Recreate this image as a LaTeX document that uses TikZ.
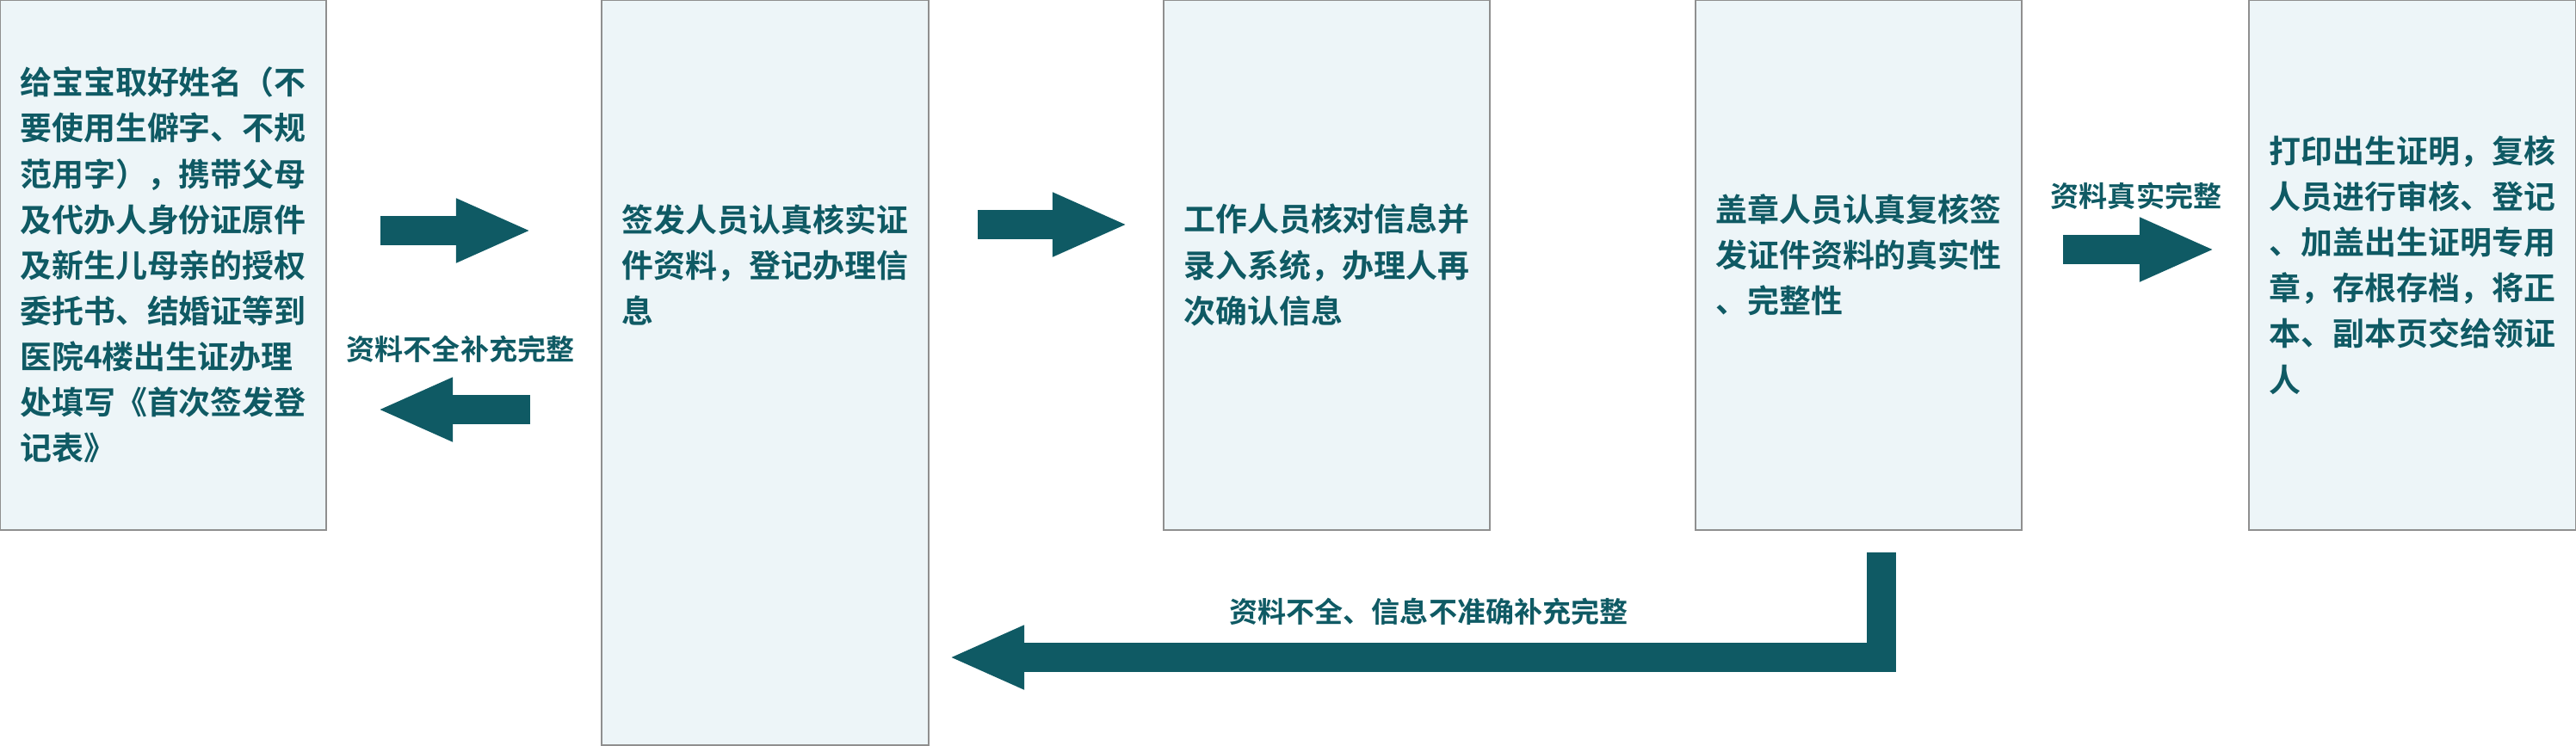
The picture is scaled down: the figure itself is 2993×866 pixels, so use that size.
\documentclass[tikz,border=0pt]{standalone}
\usepackage{fontspec}
\newfontfamily\cjk{Noto Sans CJK SC}[BoldFont={Noto Sans CJK SC Bold}]
\usetikzlibrary{arrows.meta}
\definecolor{flowteal}{HTML}{0F5A64}
\definecolor{boxfill}{HTML}{EDF5F8}
\definecolor{boxgray}{HTML}{8F8F8F}

\begin{document}
\begin{tikzpicture}[x=0.01cm, y=-0.01cm, >={Triangle[length=0.88cm,width=0.68cm]}]
  \tikzstyle{steptext} = [inner sep=0pt, align=left, text=flowteal, font={\cjk\bfseries\fontsize{10.5pt}{15.1pt}\selectfont}]
  \tikzstyle{stepbox} = [steptext, draw=boxgray, fill=boxfill, line width=0.02cm, minimum width=3.79cm, minimum height=6.16cm]
  \tikzstyle{blockarrow} = [draw=flowteal, line width=0.34cm, ->]
  \tikzstyle{note} = [inner sep=0pt, text=flowteal, font={\cjk\bfseries\fontsize{9.4pt}{12pt}\selectfont}]
  \useasboundingbox (0,0) rectangle (2993,866);

  % steps
  \node[stepbox] (b1) at (189.5,308) {给宝宝取好姓名（不\\要使用生僻字、不规\\范用字），携带父母\\及代办人身份证原件\\及新生儿母亲的授权\\委托书、结婚证等到\\医院4楼出生证办理\\处填写《首次签发登\\记表》};
  \node[stepbox, minimum height=8.66cm] (b2) at (889,433) {};
  \node[steptext] (t2) at (b2 |- b1) {签发人员认真核实证\\件资料，登记办理信\\息};
  \node[stepbox] (b3) at (1541.5,308) {工作人员核对信息并\\录入系统，办理人再\\次确认信息};
  \node[stepbox] (b4) at (2159.5,308) {};
  \node[steptext] (t4) at ([yshift=0.12cm]b4.center) {盖章人员认真复核签\\发证件资料的真实性\\、完整性};
  \node[stepbox] (b5) at (2803,308) {打印出生证明，复核\\人员进行审核、登记\\、加盖出生证明专用\\章，存根存档，将正\\本、副本页交给领证\\人};

  % arrow ends
  \coordinate (a12s) at (442,268);  \coordinate (a12e) at (618,268);
  \coordinate (a21s) at (616,476);  \coordinate (a21e) at (438,476);
  \coordinate (a23s) at (1136,261); \coordinate (a23e) at (1311,261);
  \coordinate (a45s) at (2397,290); \coordinate (a45e) at (2574,290);
  \coordinate (backs) at (2186,642); \coordinate (backc) at (2186,764);
  \coordinate (backe) at (1102,764);

  \draw[blockarrow] (a12s) -- (a12e);
  \draw[blockarrow] (a21s) -- (a21e);
  \draw[blockarrow] (a23s) -- (a23e);
  \draw[blockarrow] (a45s) -- (a45e);
  \draw[blockarrow] (backs) -- (backc) -- (backe);

  \node[note] (n21) at (535,406) {资料不全补充完整};
  \node[note] (n45) at (2482,228) {资料真实完整};
  \node[note] (nback) at (1660,711) {资料不全、信息不准确补充完整};
\end{tikzpicture}
\end{document}
